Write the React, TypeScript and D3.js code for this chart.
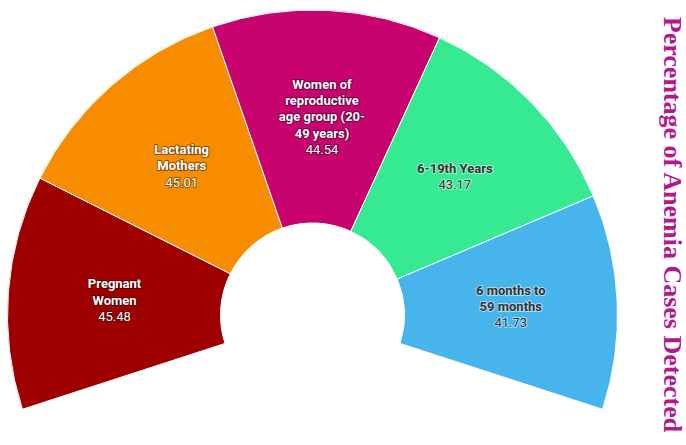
import * as d3 from "d3";
import React, { useEffect, useRef } from "react";

const categories = [
  "Pregnant Women",
  "Lactating Mothers",
  "Women of reproductive age group (20-49 years)",
  "6-19th Years",
  "6 months to 59 months",
];
// wrapped the way the original label layout breaks them
const labelLines = [
  ["Pregnant", "Women"],
  ["Lactating", "Mothers"],
  ["Women of", "reproductive", "age group (20-", "49 years)"],
  ["6-19th Years"],
  ["6 months to", "59 months"],
];
const values = [45.48, 45.01, 44.54, 43.17, 41.73];
const colors = ["#9e0000", "#f78c00", "#c8036f", "#36e993", "#48b4ec"];
const darkText = [false, false, false, true, true];

const title = "Percentage of Anemia Cases Detected";

const width = 686;
const height = 445;
const cx = 312.5;
const cy = 315;
const outerR = 305;
const innerR = 92;
const lineH = 16.3;

const App: React.FC = () => {
  const ref = useRef<SVGSVGElement>(null);

  useEffect(() => {
    if (!ref.current) return;
    const svg = d3.select(ref.current);
    svg.selectAll("*").remove();

    const data = categories.map((c, i) => ({ name: c, value: values[i], idx: i }));

    const pie = d3
      .pie<{ name: string; value: number; idx: number }>()
      .value((d) => d.value)
      .sort(null)
      .startAngle((-108 * Math.PI) / 180)
      .endAngle((108 * Math.PI) / 180);

    const arc = d3
      .arc<d3.PieArcDatum<{ name: string; value: number; idx: number }>>()
      .innerRadius(innerR)
      .outerRadius(outerR);

    const g = svg.append("g").attr("transform", `translate(${cx},${cy})`);
    const arcs = pie(data);

    g.selectAll("path")
      .data(arcs)
      .join("path")
      .attr("d", arc)
      .attr("fill", (d) => colors[d.data.idx])
      .attr("stroke", "#ffffff")
      .attr("stroke-width", 1)
      .attr("stroke-linejoin", "round");

    const labels = g
      .selectAll("g.label")
      .data(arcs)
      .join("g")
      .attr("class", "label")
      .attr("transform", (d) => {
        const [x, y] = arc.centroid(d);
        return `translate(${x},${y})`;
      });

    labels.each(function (d) {
      const i = d.data.idx;
      const lines = labelLines[i];
      const n = lines.length + 1;
      const dark = darkText[i];
      const t = d3
        .select(this)
        .append("text")
        .attr("text-anchor", "middle")
        .style("font-family", "Roboto, 'Noto Sans', sans-serif")
        .style("font-size", "13px")
        .attr("fill", dark ? "#333333" : "#ffffff")
        .attr("stroke", dark ? "rgba(255,255,255,0.55)" : "rgba(0,0,0,0.45)")
        .attr("stroke-width", 2)
        .attr("stroke-linejoin", "round")
        .style("paint-order", "stroke");
      const y0 = (-(n - 1) / 2) * lineH + 4.5;
      lines.forEach((l, k) => {
        t.append("tspan")
          .attr("x", 0)
          .attr("y", y0 + k * lineH)
          .style("font-weight", "bold")
          .text(l);
      });
      t.append("tspan")
        .attr("x", 0)
        .attr("y", y0 + lines.length * lineH)
        .style("font-weight", "normal")
        .text(d3.format(".2f")(d.data.value));
    });

    svg
      .append("text")
      .attr("transform", `translate(664,${height / 2 + 2}) rotate(90)`)
      .attr("text-anchor", "middle")
      .style("font-family", "'Liberation Serif', 'Times New Roman', serif")
      .style("font-weight", "bold")
      .style("font-size", "26px")
      .attr("fill", "#b3198c")
      .text(title);
  }, []);

  return (
    <svg
      ref={ref}
      width={width}
      height={height}
      viewBox={`0 0 ${width} ${height}`}
      style={{ position: "absolute", left: 0, top: 0, background: "#ffffff" }}
    />
  );
};

export default App;
